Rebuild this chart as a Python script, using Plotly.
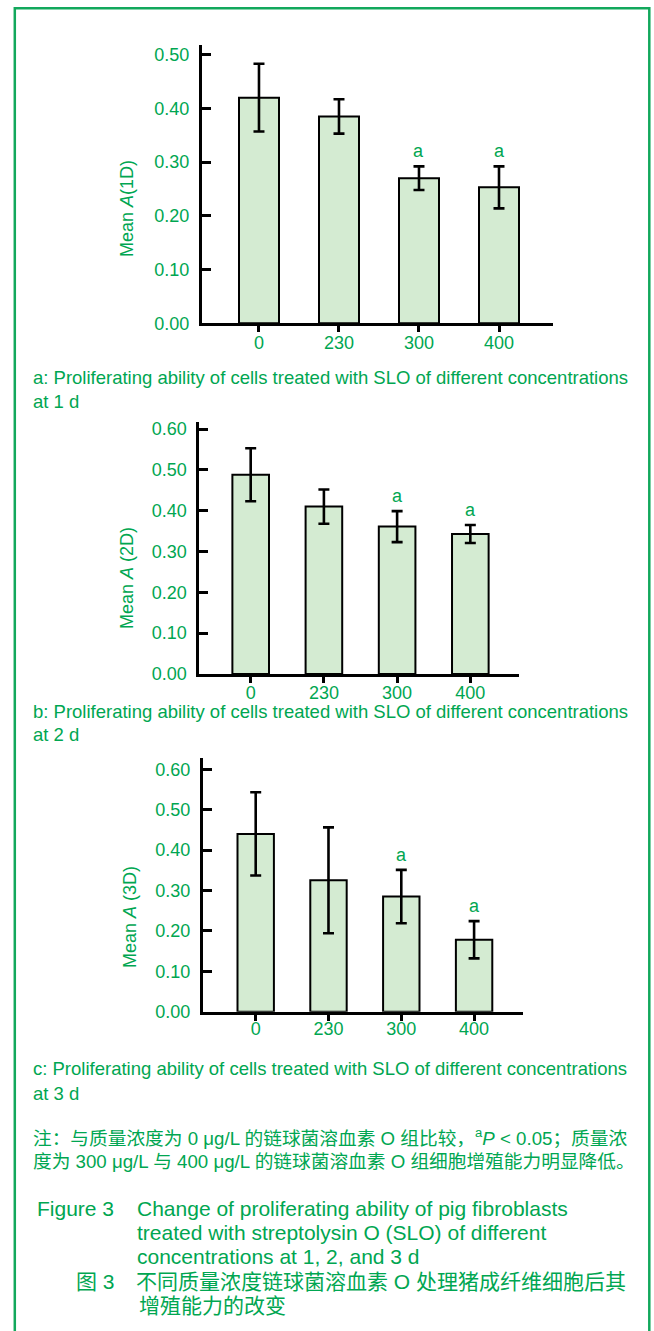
import plotly.graph_objects as go

# ---------------- data ----------------
conc = ["0", "230", "300", "400"]
mean_1d = [0.420, 0.385, 0.270, 0.253]
sd_1d = [0.063, 0.032, 0.022, 0.039]
mean_2d = [0.488, 0.410, 0.361, 0.343]
sd_2d = [0.065, 0.042, 0.038, 0.022]
mean_3d = [0.440, 0.325, 0.285, 0.178]
sd_3d = [0.103, 0.131, 0.066, 0.046]
sig = ["", "", "a", "a"]
ytick_vals = [0.0, 0.1, 0.2, 0.3, 0.4, 0.5, 0.6]

y_titles = ["Mean <i>A</i>(1D)", "Mean <i>A</i> (2D)", "Mean <i>A</i> (3D)"]
captions = [
    ("a: Proliferating ability of cells treated with SLO of different concentrations", "at 1 d"),
    ("b: Proliferating ability of cells treated with SLO of different concentrations", "at 2 d"),
    ("c: Proliferating ability of cells treated with SLO of different concentrations", "at 3 d"),
]
note_lines = [
    "注：与质量浓度为 0 μg/L 的链球菌溶血素 O 组比较，<sup>a</sup><i>P</i> &lt; 0.05；质量浓",
    "度为 300 μg/L 与 400 μg/L 的链球菌溶血素 O 组细胞增殖能力明显降低。",
]
fig_label_en = "Figure 3"
fig_title_en = [
    "Change of proliferating ability of pig fibroblasts",
    "treated with streptolysin O (SLO) of different",
    "concentrations at 1, 2, and 3 d",
]
fig_label_cn = "图 3"
fig_title_cn = ["不同质量浓度链球菌溶血素 O 处理猪成纤维细胞后其", "增殖能力的改变"]

# ---------------- layout helpers ----------------
W, H = 654, 1331
GREEN = "#00a651"
BAR = "#d4ebd2"
FONT = "Liberation Sans, Arial, Noto Sans CJK SC, sans-serif"


def px(x):
    return x / W


def py(y):
    return 1 - y / H


panels = [
    dict(mean=mean_1d, sd=sd_1d, x0=201.7, x1=553.0, y0=323.3, y1=45.0,
         yr=[0, 0.518], xr=[-0.716, 3.675], tmax=0.5, ty=209, tx=127, xso=-5),
    dict(mean=mean_2d, sd=sd_2d, x0=199.3, x1=519.3, y0=674.0, y1=421.7,
         yr=[0, 0.618], xr=[-0.702, 3.669], tmax=0.6, ty=578, tx=127, xso=-5),
    dict(mean=mean_3d, sd=sd_3d, x0=202.7, x1=523.3, y0=1011.7, y1=758.3,
         yr=[0, 0.627], xr=[-0.728, 3.676], tmax=0.6, ty=917, tx=130, xso=-7),
]

fig = go.Figure()
annotations = []
layout = {}

for i, p in enumerate(panels):
    n = "" if i == 0 else str(i + 1)
    xa, ya = "x" + n, "y" + n
    fig.add_trace(go.Bar(
        x=conc, y=p["mean"], xaxis=xa, yaxis=ya, width=0.5,
        marker=dict(color=BAR, line=dict(color="black", width=2)),
        error_y=dict(type="data", array=p["sd"], color="black", thickness=2.6, width=5.5),
        showlegend=False, hoverinfo="skip",
    ))
    tv = [v for v in ytick_vals if v <= p["tmax"] + 1e-9]
    layout["xaxis" + n] = dict(
        domain=[px(p["x0"]), px(p["x1"])], range=p["xr"], anchor=ya,
        type="category", showline=True, linecolor="black", linewidth=2.6,
        ticks="outside", ticklen=6, tickwidth=2.6, tickcolor="black",
        tickfont=dict(family=FONT, size=18, color=GREEN), showgrid=False,
        zeroline=False, ticklabelstandoff=p["xso"], automargin=False,
    )
    layout["yaxis" + n] = dict(
        domain=[py(p["y0"]), py(p["y1"])], range=p["yr"], anchor=xa,
        showline=True, linecolor="black", linewidth=2.6,
        ticks="inside", ticklen=9, tickwidth=2.6, tickcolor="black",
        tickvals=tv, tickformat=".2f",
        tickfont=dict(family=FONT, size=18, color=GREEN), showgrid=False,
        zeroline=False, ticklabelstandoff=6, automargin=False,
    )
    # y title
    annotations.append(dict(
        text=y_titles[i], xref="paper", yref="paper", x=px(p["tx"]), y=py(p["ty"]),
        xanchor="center", yanchor="middle", textangle=-90, showarrow=False,
        font=dict(family=FONT, size=18, color=GREEN),
    ))
    # significance letters (category axis -> serial index)
    for j, (m, s, lab) in enumerate(zip(p["mean"], p["sd"], sig)):
        if lab:
            annotations.append(dict(
                text=lab, x=j, y=m + s, xref=xa, yref=ya, xanchor="center",
                yanchor="middle", yshift=15, showarrow=False,
                font=dict(family=FONT, size=18, color=GREEN),
            ))


def add_text(t, x, y, size=18.5):
    annotations.append(dict(
        text=t, xref="paper", yref="paper", x=px(x), y=py(y), xanchor="left",
        yanchor="middle", showarrow=False, align="left",
        font=dict(family=FONT, size=size, color=GREEN),
    ))


cap_y = [(378, 401), (712, 735), (1068, 1093)]
for (l1, l2), (y1, y2) in zip(captions, cap_y):
    add_text(l1, 31, y1)
    add_text(l2, 31, y2)

add_text(note_lines[0], 31, 1137, 18.7)
add_text(note_lines[1], 31, 1161, 18.7)

add_text(fig_label_en, 35, 1208, 21)
for t, y in zip(fig_title_en, [1208, 1232, 1256]):
    add_text(t, 135, y, 21)
add_text(fig_label_cn, 74, 1281, 21)
add_text(fig_title_cn[0], 134, 1281, 21)
add_text(fig_title_cn[1], 137, 1305, 21)

shapes = [dict(
    type="rect", xref="paper", yref="paper",
    x0=px(14.8), x1=px(649.3), y0=py(1345), y1=py(8.2),
    line=dict(color="#12a85c", width=2.5), fillcolor="rgba(0,0,0,0)", layer="below",
)]

fig.update_layout(
    width=W, height=H, autosize=False,
    margin=dict(l=0, r=0, t=0, b=0, pad=0, autoexpand=False),
    paper_bgcolor="white", plot_bgcolor="rgba(0,0,0,0)",
    annotations=annotations, shapes=shapes, bargap=0.5, showlegend=False,
    font=dict(family=FONT, color=GREEN), **layout,
)

fig.write_html(
    "out.html",
    config={"displayModeBar": False},
    post_script="document.body.style.margin='0';document.body.style.overflow='hidden';",
)
